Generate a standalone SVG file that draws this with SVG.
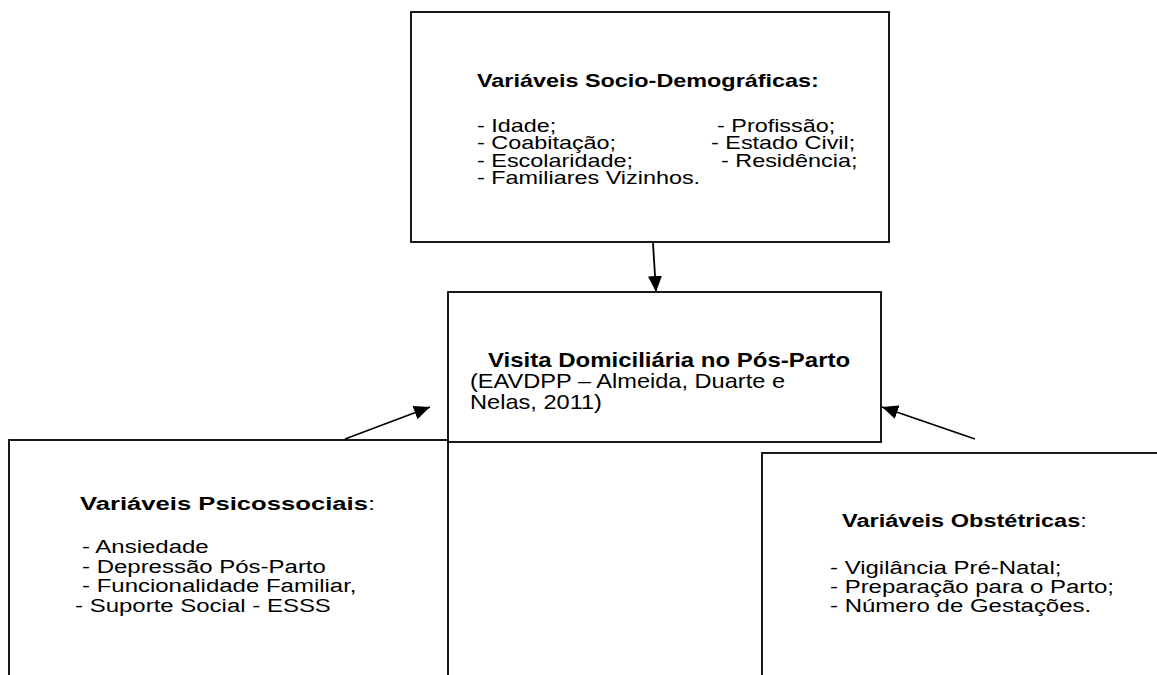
<svg xmlns="http://www.w3.org/2000/svg" width="1157" height="675" viewBox="0 0 1157 675">
  <style>
    text { font-family: "Liberation Sans", Arial, sans-serif; fill: #000; }
    .t19 { font-size: 19px; }
    .t20 { font-size: 20px; }
    .b { font-weight: bold; }
    .n { font-weight: normal; }
    .box { fill: #fff; stroke: #000; stroke-width: 1.8; }
    .con { stroke: #000; stroke-width: 1.8; fill: none; }
  </style>
  <defs>
    <marker id="ah" markerUnits="userSpaceOnUse" markerWidth="16" markerHeight="14" refX="16" refY="7" orient="auto">
      <path d="M0,0 L16,7 L0,14 z" fill="#000"/>
    </marker>
  </defs>
  <rect width="1157" height="675" fill="#fff"/>

  <g id="node-psicossociais">
    <rect class="box" x="9" y="440" width="439" height="260"/>
    <text class="t19 b" transform="translate(80,510) scale(1.35,1)">Variáveis Psicossociais<tspan class="n">:</tspan></text>
    <text class="t19" transform="translate(82,553) scale(1.263,1)">- Ansiedade</text>
    <text class="t19" transform="translate(82,573) scale(1.263,1)">- Depressão Pós-Parto</text>
    <text class="t19" transform="translate(82,592) scale(1.263,1)">- Funcionalidade Familiar,</text>
    <text class="t19" transform="translate(75,612) scale(1.263,1)">- Suporte Social - ESSS</text>
  </g>

  <g id="node-obstetricas">
    <rect class="box" x="762" y="453" width="420" height="250"/>
    <text class="t19 b" transform="translate(842,527) scale(1.24,1)">Variáveis Obstétricas<tspan class="n">:</tspan></text>
    <text class="t19" transform="translate(830,574) scale(1.263,1)">- Vigilância Pré-Natal;</text>
    <text class="t19" transform="translate(830,593) scale(1.263,1)">- Preparação para o Parto;</text>
    <text class="t19" transform="translate(830,612) scale(1.263,1)">- Número de Gestações.</text>
  </g>

  <g id="node-visita">
    <rect class="box" x="448" y="292" width="433" height="150"/>
    <text class="t20 b" transform="translate(488,367) scale(1.2,1)">Visita Domiciliária no Pós-Parto</text>
    <text class="t20" transform="translate(470,388) scale(1.18,1)">(EAVDPP – Almeida, Duarte e</text>
    <text class="t20" transform="translate(470,409) scale(1.18,1)">Nelas, 2011)</text>
  </g>

  <g id="node-sociodemograficas">
    <rect class="box" x="411" y="12" width="478" height="230"/>
    <text class="t19 b" transform="translate(477,87) scale(1.232,1)">Variáveis Socio-Demográficas:</text>
    <text class="t19" transform="translate(477,132) scale(1.232,1)">- Idade;</text>
    <text class="t19" transform="translate(477,149) scale(1.232,1)">- Coabitação;</text>
    <text class="t19" transform="translate(477,167) scale(1.232,1)">- Escolaridade;</text>
    <text class="t19" transform="translate(477,184) scale(1.232,1)">- Familiares Vizinhos.</text>
    <text class="t19" transform="translate(717,132) scale(1.232,1)">- Profissão;</text>
    <text class="t19" transform="translate(711,149) scale(1.232,1)">- Estado Civil;</text>
    <text class="t19" transform="translate(721,167) scale(1.232,1)">- Residência;</text>
  </g>

  <g id="connectors">
    <line class="con" x1="653" y1="243" x2="656" y2="292" marker-end="url(#ah)"/>
    <line class="con" x1="345" y1="439" x2="430" y2="407" marker-end="url(#ah)"/>
    <line class="con" x1="975" y1="439" x2="882" y2="407" marker-end="url(#ah)"/>
  </g>
</svg>
